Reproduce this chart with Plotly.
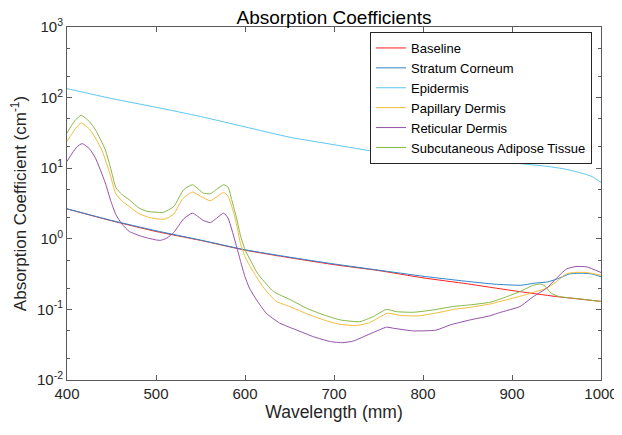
import plotly.graph_objects as go

# ---------------- data ----------------
wl_base = [400, 450, 500, 550, 600, 650, 700, 750, 800, 850, 900, 950, 1000]
mu_base = [2.65, 1.80, 1.27, 0.95, 0.69, 0.54, 0.43, 0.355, 0.28, 0.23, 0.185, 0.152, 0.13]

wl_sc = [400, 450, 500, 550, 600, 650, 700, 750, 800, 850, 880, 910, 925, 940, 950, 965, 980, 990, 1000]
mu_sc = [2.66, 1.82, 1.30, 0.96, 0.70, 0.55, 0.44, 0.36, 0.295, 0.249, 0.228, 0.22, 0.235, 0.245, 0.268,
         0.318, 0.325, 0.317, 0.29]

wl_epi = [400, 450, 500, 550, 600, 650, 700, 750, 800, 850, 900, 940, 960, 980, 990, 1000]
mu_epi = [134, 97, 73, 54, 38.5, 27.5, 21.5, 17, 15.2, 13.6, 11.9, 10.6, 9.7, 8.4, 7.6, 6.3]

wl_pap = [400, 405, 410, 416, 425, 432, 440, 448, 455, 462, 470, 480, 490, 500, 510, 520, 530, 541,
          550, 561, 568, 576, 581, 587, 591, 595, 600, 605, 610, 620, 635, 650, 670, 690, 705, 725,
          740, 760, 775, 795, 815, 835, 855, 875, 886, 908, 927, 939, 950, 961, 969, 984, 1000]
mu_pap = [24, 30, 37, 43.8, 36, 26.8, 17, 8.5, 4.3, 3.4, 2.87, 2.3, 2.05, 1.92, 1.90, 2.25, 3.7, 4.6,
          4.0, 3.46, 3.9, 4.55, 4.0, 2.4, 1.5, 0.85, 0.56, 0.42, 0.33, 0.21, 0.13, 0.11, 0.086, 0.07,
          0.062, 0.059, 0.065, 0.088, 0.082, 0.081, 0.089, 0.10, 0.108, 0.119, 0.129, 0.152, 0.179,
          0.20, 0.248, 0.319, 0.333, 0.333, 0.305]

wl_ret = [400, 406, 411, 417, 425, 432, 443, 449, 455, 462, 470, 484, 499, 505, 512, 520, 531, 541,
          553, 561, 568, 576, 581, 591, 595, 600, 605, 613, 624, 639, 658, 677, 696, 710, 722, 733,
          744, 759, 767, 789, 815, 830, 853, 875, 886, 909, 924, 939, 950, 961, 972, 984, 1000]
mu_ret = [12.5, 16.4, 20, 22.3, 19, 13.9, 6.2, 3.5, 2.19, 1.6, 1.27, 1.08, 0.97, 0.95, 1.02, 1.23,
          1.91, 2.31, 1.82, 1.70, 1.95, 2.31, 1.96, 0.74, 0.48, 0.29, 0.2, 0.136, 0.088, 0.064, 0.051,
          0.041, 0.035, 0.0338, 0.0357, 0.041, 0.047, 0.056, 0.054, 0.0496, 0.051, 0.060, 0.071,
          0.081, 0.090, 0.11, 0.152, 0.20, 0.277, 0.372, 0.405, 0.40, 0.333]

wl_sub = [400, 405, 410, 416, 425, 432, 443, 449, 455, 462, 470, 481, 490, 500, 508, 520, 531, 541,
          553, 561, 568, 576, 581, 585, 591, 595, 600, 606, 613, 617, 632, 651, 669, 688, 707, 729,
          744, 759, 770, 789, 811, 834, 853, 875, 886, 909, 924, 931, 936, 944, 953, 976, 1000]
mu_sub = [31.5, 40, 49, 56, 46, 35, 18.3, 10, 5.3, 4.2, 3.57, 2.72, 2.45, 2.38, 2.36, 2.87, 4.95,
          5.83, 4.45, 4.35, 5.0, 5.83, 5.4, 3.6, 1.86, 1.1, 0.70, 0.50, 0.34, 0.29, 0.179, 0.137,
          0.104, 0.084, 0.071, 0.067, 0.079, 0.10, 0.093, 0.091, 0.098, 0.11, 0.116, 0.126, 0.139,
          0.179, 0.22, 0.228, 0.22, 0.17, 0.152, 0.141, 0.129]

series_names = ["Baseline", "Stratum Corneum", "Epidermis", "Papillary Dermis",
                "Reticular Dermis", "Subcutaneous Adipose Tissue"]
series_colors = ["#FF2020", "#2B86CC", "#5EC6F0", "#F2BC3A", "#9550AA", "#86B845"]

y_tickvals = [0.01, 0.1, 1, 10, 100, 1000]
y_ticktext = ["10<sup>-2</sup>", "10<sup>-1</sup>", "10<sup>0</sup>", "10<sup>1</sup>",
              "10<sup>2</sup>", "10<sup>3</sup>"]
x_tickvals = [400, 500, 600, 700, 800, 900, 1000]

# ---------------- figure ----------------
FONT = "Liberation Sans, Arial, Helvetica, sans-serif"
AXC = "#5a5a5a"
FIG_W, FIG_H = 614, 427   # page body adds an 8px margin -> fills the 622x435 window

fig = go.Figure()
all_x = [wl_base, wl_sc, wl_epi, wl_pap, wl_ret, wl_sub]
all_y = [mu_base, mu_sc, mu_epi, mu_pap, mu_ret, mu_sub]
for name, col, xs, ys in zip(series_names, series_colors, all_x, all_y):
    fig.add_trace(go.Scatter(x=xs, y=ys, mode="lines", name=name,
                             line=dict(color=col, width=1, shape="spline", smoothing=0.5)))

fig.update_layout(
    width=FIG_W, height=FIG_H,
    margin=dict(l=59, r=21, t=19, b=55, autoexpand=False),
    paper_bgcolor="white", plot_bgcolor="white",
    font=dict(family=FONT, color="#262626", size=15),
    title=dict(text="Absorption Coefficients", x=0.5, xref="paper", xanchor="center",
               y=1 - 9.5 / FIG_H, yref="container", yanchor="middle",
               font=dict(family=FONT, size=19, color="black")),
    showlegend=True,
    legend=dict(x=(592 - 67) / 534, xanchor="right", y=(380 - 32) / 353, yanchor="top",
                bgcolor="white", bordercolor="#262626", borderwidth=1,
                font=dict(family=FONT, size=13, color="black"),
                tracegroupgap=0, itemwidth=30),
)

fig.update_xaxes(range=[400, 1000], tickvals=x_tickvals, ticks="inside", ticklen=5,
                 tickcolor=AXC, showline=True, linecolor=AXC, linewidth=1, mirror="allticks",
                 showgrid=False, zeroline=False, automargin=False,
                 tickfont=dict(family=FONT, size=15, color="#262626"),
                 title=dict(text="Wavelength (mm)", standoff=4,
                            font=dict(family=FONT, size=17.5, color="#262626")))

fig.update_yaxes(type="log", range=[-2, 3], tickvals=y_tickvals, ticktext=y_ticktext,
                 ticks="inside", ticklen=5, tickcolor=AXC, showline=True, linecolor=AXC,
                 linewidth=1, mirror="allticks", showgrid=False, zeroline=False, automargin=False,
                 minor=dict(ticks="inside", ticklen=3, tickcolor=AXC, showgrid=False),
                 tickfont=dict(family=FONT, size=15, color="#262626"),
                 title=dict(text="Absorption Coefficient (cm<sup>-1</sup>)", standoff=6,
                            font=dict(family=FONT, size=17, color="#262626")))

fig.write_html("out.html")
